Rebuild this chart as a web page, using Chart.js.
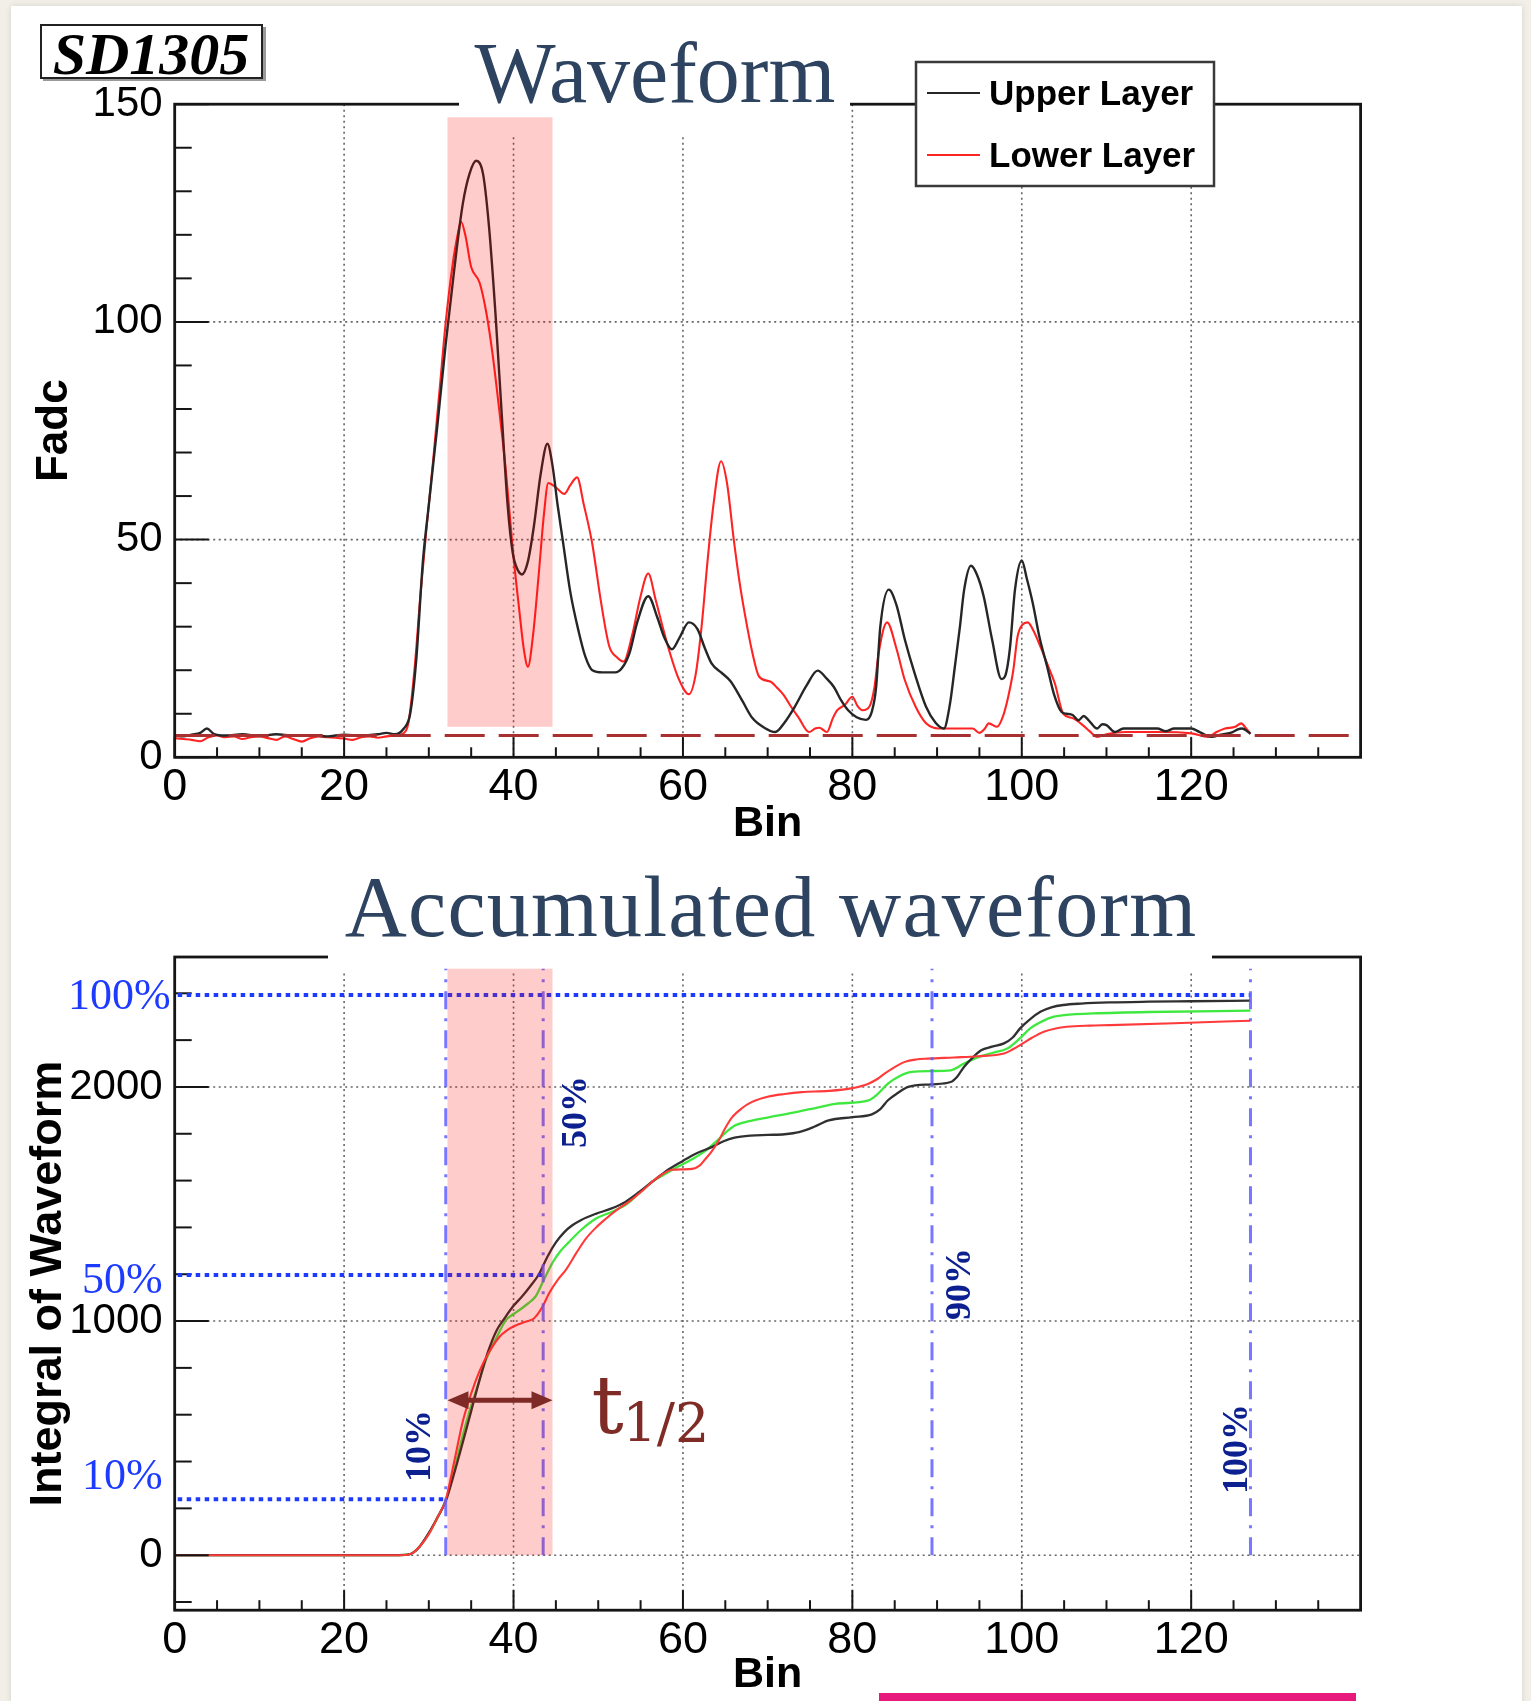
<!DOCTYPE html>
<html>
<head>
<meta charset="utf-8">
<script src="https://cdn.jsdelivr.net/npm/chart.js@4.4.1/dist/chart.umd.min.js"></script>
<style>
  html, body { margin: 0; padding: 0; background: #f2efe8; }
  body { width: 1531px; height: 1701px; position: relative; overflow: hidden; }
  #sheet { position: absolute; left: 11px; top: 6px; width: 1511px; height: 1700px; background: #fff; box-shadow: 0 0 6px rgba(0,0,0,0.12); }
  canvas { position: absolute; left: 0; }
  #wave { top: 0; }
  #accum { top: 860px; }
  #strip { position: absolute; left: 879px; top: 1693px; width: 477px; height: 8px; background: #e8197d; }
</style>
</head>
<body>
<div id="sheet"></div>
<canvas id="wave" width="1531" height="860"></canvas>
<canvas id="accum" width="1531" height="841"></canvas>
<div id="strip"></div>
<script>
// ---- waveform, FADC counts per bin ----
const upperBin = [0,1,2,3,3.8,4.6,6,8,10,12,14,16,18,20,22,24,25,26,27,27.8,28.5,29.3,30,31,32,33,34,34.8,35.6,36.4,37.1,37.9,38.6,39.3,39.9,40.5,41,41.7,42.4,43.2,44,44.6,45.2,45.8,46.7,47.7,48.5,49.3,50.5,52,52.8,53.7,54.6,55.9,57,57.8,58.7,59.6,60.7,61.7,62.6,63.4,64.5,65.6,67,68.2,69.6,70.9,72,73.2,74.6,75.9,77,77.8,78.7,79.5,80.5,81.6,82.3,82.8,83.3,84.3,85.2,86.2,87.4,88.7,89.8,90.8,91.5,92.1,92.7,93.2,94,94.7,95.5,96.5,97.6,98.1,98.6,99.2,100,100.6,101.3,102.1,103,103.8,104.7,105.3,106,106.7,107.3,107.9,108.9,109.5,110,111,112,116,117,118,120,121,122.4,123.5,124.9,125.5,126,127];
const upperFadc = [5.0,4.8,5.2,5.6,6.6,5.4,5.0,5.3,4.9,5.3,5.0,5.1,4.8,5.2,5.0,5.3,5.6,5.3,6.5,10,22,45,58,76,95,112,127,134,137,134,122,101,79,58,47,43,42,45,53,65,72,67,58,50,38,28.8,23,20,19.5,19.5,20.5,24,31,37,32,27.5,24.8,27.5,31,29.5,25,21.5,19.5,17.5,13,9,6.8,5.8,8,11.6,16.5,19.9,18,16.2,13,10.8,9.2,8.6,10.5,16,30,38.5,35,27,19,11.6,8,6.6,12,20.8,30,38.5,44,42,37,27,18,19,25,38.5,45.2,41,35.4,27.5,20.8,14.5,10.4,10,9.7,8.5,9.5,8.5,6.6,7.6,7.4,5.8,6.6,6.6,6.0,6.6,6.6,5.8,4.7,5.2,5.8,6.4,6.6,5.4];

const lowerBin = [0,1,2,3,4,5,6,7,8,9,10,11,12,13,14,15,16,17,18,19,20,21,22,23,24,25,26,27,27.6,28.3,29,29.7,30.5,31.3,32,32.8,33.4,33.8,34.3,35,36,36.8,37.5,38.3,39.1,39.9,40.7,41.2,41.7,42.3,43,43.6,44.1,45,46,46.7,47.5,48.3,49.3,50.3,51.3,52.2,53,54,55,55.9,56.8,57.6,58.3,59.5,60.7,61.5,62.2,62.9,63.6,64.5,65.2,66,66.7,67.3,68.2,69,70.3,71.1,71.9,72.8,73.6,74.9,75.6,76.1,77,77.7,78.2,79.1,80,80.6,81.2,82,82.6,83.1,84.1,85.2,86.2,87.5,88.7,89.6,90.8,94.2,95,95.6,96.1,97.1,97.8,98.4,99,99.5,100.1,100.7,101.4,102.2,103.1,103.9,104.9,106,107.2,108,108.9,110,112.3,116,120,122,123,124,125.2,125.9,126.5,127];
const lowerFadc = [4.4,4.2,4.0,3.7,4.6,5.0,4.6,4.8,4.2,4.6,4.8,4.4,4.0,4.8,4.2,3.6,4.4,4.8,4.6,4.5,4.3,4.0,4.6,4.8,4.5,4.8,5.0,5.5,8,20,37,52,68,85,100,113,120,123,120,112.6,109,102,93,80,65.7,48,33.4,25,20.8,28,42.6,56,63,62,60.5,62.5,64.3,58,49,36,25.5,23,22,28,37,42.2,36,30,25,18,14.5,19,30,45,58,68,63,50,40,33,24,18.5,17.4,16,14.3,11.5,9.3,5.8,6.6,6.8,5.8,9,10.8,12,13.9,11.8,10.8,11.6,16,23.9,31,25,17.7,11.5,7.8,6.8,6.6,6.6,5.6,6.5,7.8,7,9.5,13.9,20,27.7,30.5,31,29,25.4,21,17,10,9,7.4,6,4.7,5.3,5.8,5.8,5.5,4.7,5.8,6.6,7,7.8,6.6,5.4];

const pedestal = 5;

// ---- accumulated waveform ----
const upperSumBin = [0,10,20,26,27.5,28.2,28.9,30,31,32,33,34,35,36,37,38,39,40,41,42,43,44,45,46,46.9,48,49.7,51.5,53.2,54.8,56.4,58,59.9,61.5,63.4,64.8,66.1,68,70,72,73.7,75.5,77.2,80,82.3,83.3,84.2,85.4,86.6,89.3,91.6,92.4,93.2,94.2,95.2,96.5,97.9,98.9,99.8,101,102.2,103.5,104.9,107,110.4,115,120,127];
const upperSum = [0,0,0,0,2,12,36,95,160,231,350,480,615,750,870,960,1015,1065,1105,1150,1200,1275,1336,1380,1408,1432,1458,1480,1509,1550,1596,1640,1682,1715,1743,1768,1783,1792,1795,1798,1807,1830,1857,1871,1883,1905,1943,1975,2000,2011,2021,2045,2086,2125,2157,2172,2186,2210,2250,2290,2321,2340,2350,2356,2361,2364,2366,2369];

const lowerSumBin = [0,10,20,26,27.5,28.2,28.9,30,31,32,33,34,35,36,37,38.3,39.3,40.3,41.4,42.4,43.4,44.2,45.2,46.2,47.4,48.5,49.7,50.9,52.2,53.6,55,56.4,57.5,58.7,60,61.1,62,62.6,63.4,64.2,65,65.8,67,68.1,70,72,74,77.2,80,81.9,83,83.8,85,86.2,87.5,88.9,92,94.8,97.9,98.9,99.8,101.2,102.6,104,105.3,108,110.4,118,127];
const lowerSum = [0,0,0,0,2,12,36,90,160,238,400,570,690,787,860,931,962,982,997,1011,1060,1119,1175,1220,1290,1350,1398,1437,1475,1509,1550,1596,1625,1646,1648,1650,1665,1690,1725,1769,1825,1870,1910,1935,1958,1970,1978,1983,1995,2014,2035,2057,2085,2107,2117,2121,2126,2131,2143,2160,2179,2210,2236,2250,2257,2262,2264,2272,2283];

const meanSumBin = [0,10,20,26,27.5,28.2,28.9,30,31,32,33,34,34.8,36,36.7,38,39.1,40,40.7,41.7,42.6,43.5,44.6,45.5,46.5,48,49.7,51.5,53.2,54.8,56.4,58,59.5,61,62.6,64.2,65.2,66.1,68,70.1,73,76,78,81.9,83,84.2,85.5,87,89.3,91.6,93.2,94.8,96.5,98.3,99.7,101,102.4,103.8,106,108.4,115,127];
const meanSum = [0,0,0,0,2,12,36,92,158,235,365,510,614,750,830,930,1004,1030,1047,1075,1105,1170,1249,1297,1336,1390,1437,1465,1495,1545,1596,1630,1661,1690,1726,1776,1810,1834,1855,1870,1890,1913,1928,1943,1970,2014,2045,2064,2068,2071,2100,2126,2145,2164,2205,2250,2280,2300,2310,2314,2320,2326];

// time window and integral levels
const windowBins = [32.2, 44.6];
const windowFadc = [7, 147];
const windowSum = [0, 2505];
const totalSum = 2393;
const levelFractions = [1.0, 0.5, 0.1];
const levelLabels = ['100%', '50%', '10%'];
const levelBins = [127, 43.5, 32];
const markBins = [32, 43.5, 89.4, 127];
const markLabels = ['10%', '50%', '90%', '100%'];

const xTicks = [0, 20, 40, 60, 80, 100, 120];
const fadcTicks = [0, 50, 100, 150];
const sumTicks = [0, 1000, 2000];

Chart.defaults.font.family = "'Liberation Sans', Arial, sans-serif";
Chart.defaults.color = '#000';

const pts = (xs, ys) => xs.map((x, i) => ({ x, y: ys[i] }));
const fixTicks = vals => s => { s.ticks = vals.map(value => ({ value })); };

function seg(ctx, x0, y0, x1, y1) {
  ctx.beginPath(); ctx.moveTo(x0, y0); ctx.lineTo(x1, y1); ctx.stroke();
}

function drawGrid(chart, yVals) {
  const { ctx, chartArea: a, scales: { x, y } } = chart;
  ctx.save();
  ctx.strokeStyle = '#666';
  ctx.lineWidth = 1.6;
  ctx.setLineDash([2, 3.5]);
  xTicks.slice(1).forEach(v => { const px = x.getPixelForValue(v); seg(ctx, px, a.top, px, a.bottom); });
  yVals.forEach(v => { const py = y.getPixelForValue(v); seg(ctx, a.left, py, a.right, py); });
  ctx.restore();
}

// frame with ROOT style ticks pointing into the pad
function drawFrame(chart, yFrom, yMinor, yMajor) {
  const { ctx, chartArea: a, scales: { x, y } } = chart;
  ctx.save();
  ctx.strokeStyle = '#151515';
  ctx.lineWidth = 2.8;
  ctx.strokeRect(a.left, a.top, a.right - a.left, a.bottom - a.top);
  ctx.lineWidth = 2;
  for (let v = 0; v < x.max; v += 5) {
    const px = x.getPixelForValue(v);
    seg(ctx, px, a.bottom, px, a.bottom - (v % 20 === 0 ? 20 : 10));
  }
  for (let v = yFrom; v <= y.max; v += yMinor) {
    const py = y.getPixelForValue(v);
    seg(ctx, a.left, py, a.left + (v % yMajor === 0 ? 34 : 17), py);
  }
  ctx.restore();
}

function whiteBox(ctx, x0, y0, x1, y1) {
  ctx.fillStyle = '#fff';
  ctx.fillRect(x0, y0, x1 - x0, y1 - y0);
}

function drawWindow(chart, yRange) {
  const { ctx, scales: { x, y } } = chart;
  const x0 = x.getPixelForValue(windowBins[0]), x1 = x.getPixelForValue(windowBins[1]);
  const y0 = y.getPixelForValue(yRange[1]), y1 = y.getPixelForValue(yRange[0]);
  ctx.fillStyle = 'rgba(255, 0, 0, 0.2)';
  ctx.fillRect(x0, y0, x1 - x0, y1 - y0);
}

const waveDecor = {
  id: 'waveDecor',
  beforeDatasetsDraw(chart) { drawGrid(chart, [50, 100]); },
  afterDatasetsDraw(chart) {
    const { ctx, scales: { x, y } } = chart;
    ctx.save();
    // pedestal level
    ctx.strokeStyle = '#a83030';
    ctx.lineWidth = 3;
    ctx.setLineDash([40, 14]);
    const py = y.getPixelForValue(pedestal);
    seg(ctx, x.getPixelForValue(0), py, x.getPixelForValue(139), py);
    ctx.setLineDash([]);
    ctx.restore();

    drawFrame(chart, 0, 10, 50);

    ctx.save();
    // title
    whiteBox(ctx, 459, 28, 850, 135);
    ctx.fillStyle = '#2d4360';
    ctx.font = '86px "Liberation Serif"';
    ctx.textAlign = 'center';
    ctx.textBaseline = 'alphabetic';
    ctx.fillText('Waveform', 655, 102);

    // station tag
    ctx.fillStyle = '#9a9a9a';
    ctx.fillRect(43, 27, 223, 54);
    whiteBox(ctx, 41, 25, 262, 78);
    ctx.strokeStyle = '#222';
    ctx.lineWidth = 2;
    ctx.strokeRect(41, 25, 221, 53);
    ctx.fillStyle = '#000';
    ctx.font = 'italic bold 60px "Liberation Serif"';
    ctx.fillText('SD1305', 151, 74);

    // legend
    whiteBox(ctx, 916, 62, 1214, 186);
    ctx.strokeStyle = '#3a3a3a';
    ctx.lineWidth = 2.5;
    ctx.strokeRect(916, 62, 298, 124);
    const items = chart.data.datasets;
    ctx.textAlign = 'left';
    ctx.font = 'bold 35px "Liberation Sans"';
    items.forEach((ds, i) => {
      const ly = 93 + i * 62;
      ctx.strokeStyle = ds.borderColor;
      ctx.lineWidth = 2;
      seg(ctx, 927, ly, 980, ly);
      ctx.fillStyle = '#000';
      ctx.fillText(ds.label, 989, ly + 12);
    });

    drawWindow(chart, windowFadc);
    ctx.restore();
  }
};

const accumDecor = {
  id: 'accumDecor',
  beforeDatasetsDraw(chart) { drawGrid(chart, sumTicks); },
  afterDatasetsDraw(chart) {
    const { ctx, chartArea: a, scales: { x, y } } = chart;
    drawFrame(chart, -200, 200, 1000);

    ctx.save();
    whiteBox(ctx, 328, 0, 1212, 110);
    ctx.fillStyle = '#2d4360';
    ctx.font = '86px "Liberation Serif"';
    ctx.letterSpacing = '1.2px';
    ctx.textAlign = 'center';
    ctx.fillText('Accumulated waveform', 771, 76);
    ctx.letterSpacing = '0px';

    // integral levels
    ctx.strokeStyle = '#1c3bff';
    ctx.lineWidth = 4;
    ctx.setLineDash([4.5, 4.5]);
    levelFractions.forEach((f, i) => {
      const py = y.getPixelForValue(totalSum * f);
      seg(ctx, a.left + 3, py, x.getPixelForValue(levelBins[i]), py);
    });

    // crossing times
    ctx.strokeStyle = 'rgba(95, 95, 255, 0.85)';
    ctx.lineWidth = 3;
    ctx.setLineDash([18, 9, 3, 9]);
    markBins.forEach(b => {
      const px = x.getPixelForValue(b);
      seg(ctx, px, y.getPixelForValue(0), px, y.getPixelForValue(windowSum[1]));
    });
    ctx.setLineDash([]);

    ctx.fillStyle = '#0c2090';
    ctx.font = 'bold 36px "Liberation Serif"';
    ctx.textAlign = 'center';
    ctx.textBaseline = 'middle';
    const place = [[-25, 466], [34, 1893], [29, 1158], [-13, 453]];
    markLabels.forEach((t, i) => {
      ctx.save();
      ctx.translate(x.getPixelForValue(markBins[i]) + place[i][0], y.getPixelForValue(place[i][1]));
      ctx.rotate(-Math.PI / 2);
      ctx.fillText(t, 0, 0);
      ctx.restore();
    });

    ctx.fillStyle = '#1c3bff';
    ctx.font = '44px "Liberation Serif"';
    ctx.textAlign = 'right';
    const shift = [[-4, 3], [-12, 6], [-12, -22]];
    levelLabels.forEach((t, i) => {
      ctx.fillText(t, a.left + shift[i][0], y.getPixelForValue(totalSum * levelFractions[i]) + shift[i][1]);
    });

    drawWindow(chart, windowSum);

    // t1/2 arrow across the window
    const xl = x.getPixelForValue(windowBins[0]), xr = x.getPixelForValue(windowBins[1]);
    const ay = y.getPixelForValue(662);
    ctx.strokeStyle = ctx.fillStyle = '#7e2a26';
    ctx.lineWidth = 5;
    seg(ctx, xl + 15, ay, xr - 15, ay);
    [[xl, 1], [xr, -1]].forEach(([tx, d]) => {
      ctx.beginPath();
      ctx.moveTo(tx, ay);
      ctx.lineTo(tx + d * 21, ay - 9);
      ctx.lineTo(tx + d * 21, ay + 9);
      ctx.closePath();
      ctx.fill();
    });
    ctx.textAlign = 'left';
    ctx.textBaseline = 'alphabetic';
    ctx.fillStyle = '#7f2c27';
    ctx.font = '80px "DejaVu Serif"';
    ctx.fillText('t', xr + 39, ay + 33);
    ctx.font = '54px "DejaVu Serif"';
    ctx.fillText('1/2', xr + 70, ay + 42);
    ctx.restore();
  }
};

const commonOptions = (padTop, padRight, xHeight, yWidth) => ({
  responsive: false,
  animation: false,
  events: [],
  layout: { padding: { left: 0, right: padRight, top: padTop, bottom: 0 } },
  elements: {
    point: { radius: 0 },
    line: { cubicInterpolationMode: 'monotone', fill: false }
  },
  plugins: { legend: { display: false }, tooltip: { enabled: false } },
  scales: {
    x: {
      type: 'linear', min: 0, max: 140,
      grid: { display: false, drawTicks: false },
      border: { display: false },
      afterBuildTicks: fixTicks(xTicks),
      ticks: { padding: 3, maxRotation: 0, autoSkip: false, font: { size: 45 }, callback: v => String(v) },
      afterFit: s => { s.height = xHeight; }
    },
    y: {
      grid: { display: false, drawTicks: false },
      border: { display: false },
      afterFit: s => { s.width = yWidth; }
    }
  }
});

const waveOpts = commonOptions(104.2, 170.4, 102.7, 174.7);
waveOpts.scales.x.title = { display: true, text: 'Bin', font: { size: 43, weight: 'bold' }, padding: { top: 0, bottom: 10 } };
Object.assign(waveOpts.scales.y, {
  min: 0, max: 150,
  afterBuildTicks: fixTicks(fadcTicks),
  ticks: { padding: 12, autoSkip: false, font: { size: 42 }, callback: v => String(v) },
  title: { display: true, text: 'Fadc', font: { size: 44, weight: 'bold' }, padding: { top: 28, bottom: 0 } }
});

new Chart(document.getElementById('wave'), {
  type: 'line',
  data: {
    datasets: [
      { label: 'Upper Layer', data: pts(upperBin, upperFadc), borderColor: '#262626', borderWidth: 2.4 },
      { label: 'Lower Layer', data: pts(lowerBin, lowerFadc), borderColor: '#ff2424', borderWidth: 2.1 }
    ]
  },
  options: waveOpts,
  plugins: [waveDecor]
});

const accumOpts = commonOptions(97, 170.4, 90.8, 174.7);
accumOpts.scales.x.title = { display: true, text: 'Bin', font: { size: 43, weight: 'bold' }, padding: { top: 0, bottom: 0 } };
Object.assign(accumOpts.scales.y, {
  min: -235, max: 2555,
  afterBuildTicks: fixTicks(sumTicks),
  ticks: { padding: 12, autoSkip: false, font: { size: 42 }, callback: v => String(v) },
  title: { display: true, text: 'Integral of Waveform', font: { size: 45, weight: 'bold' }, padding: { top: 22, bottom: 0 } }
});

// the first dataset is painted last, so the lower layer sits on top
new Chart(document.getElementById('accum'), {
  type: 'line',
  data: {
    datasets: [
      { label: 'Lower Layer', data: pts(lowerSumBin, lowerSum), borderColor: '#ff3a3a', borderWidth: 2.1 },
      { label: 'Upper Layer', data: pts(upperSumBin, upperSum), borderColor: '#303030', borderWidth: 2.3 },
      { label: 'Average', data: pts(meanSumBin, meanSum), borderColor: '#3fe83f', borderWidth: 2.3 }
    ]
  },
  options: accumOpts,
  plugins: [accumDecor]
});
</script>
</body>
</html>
